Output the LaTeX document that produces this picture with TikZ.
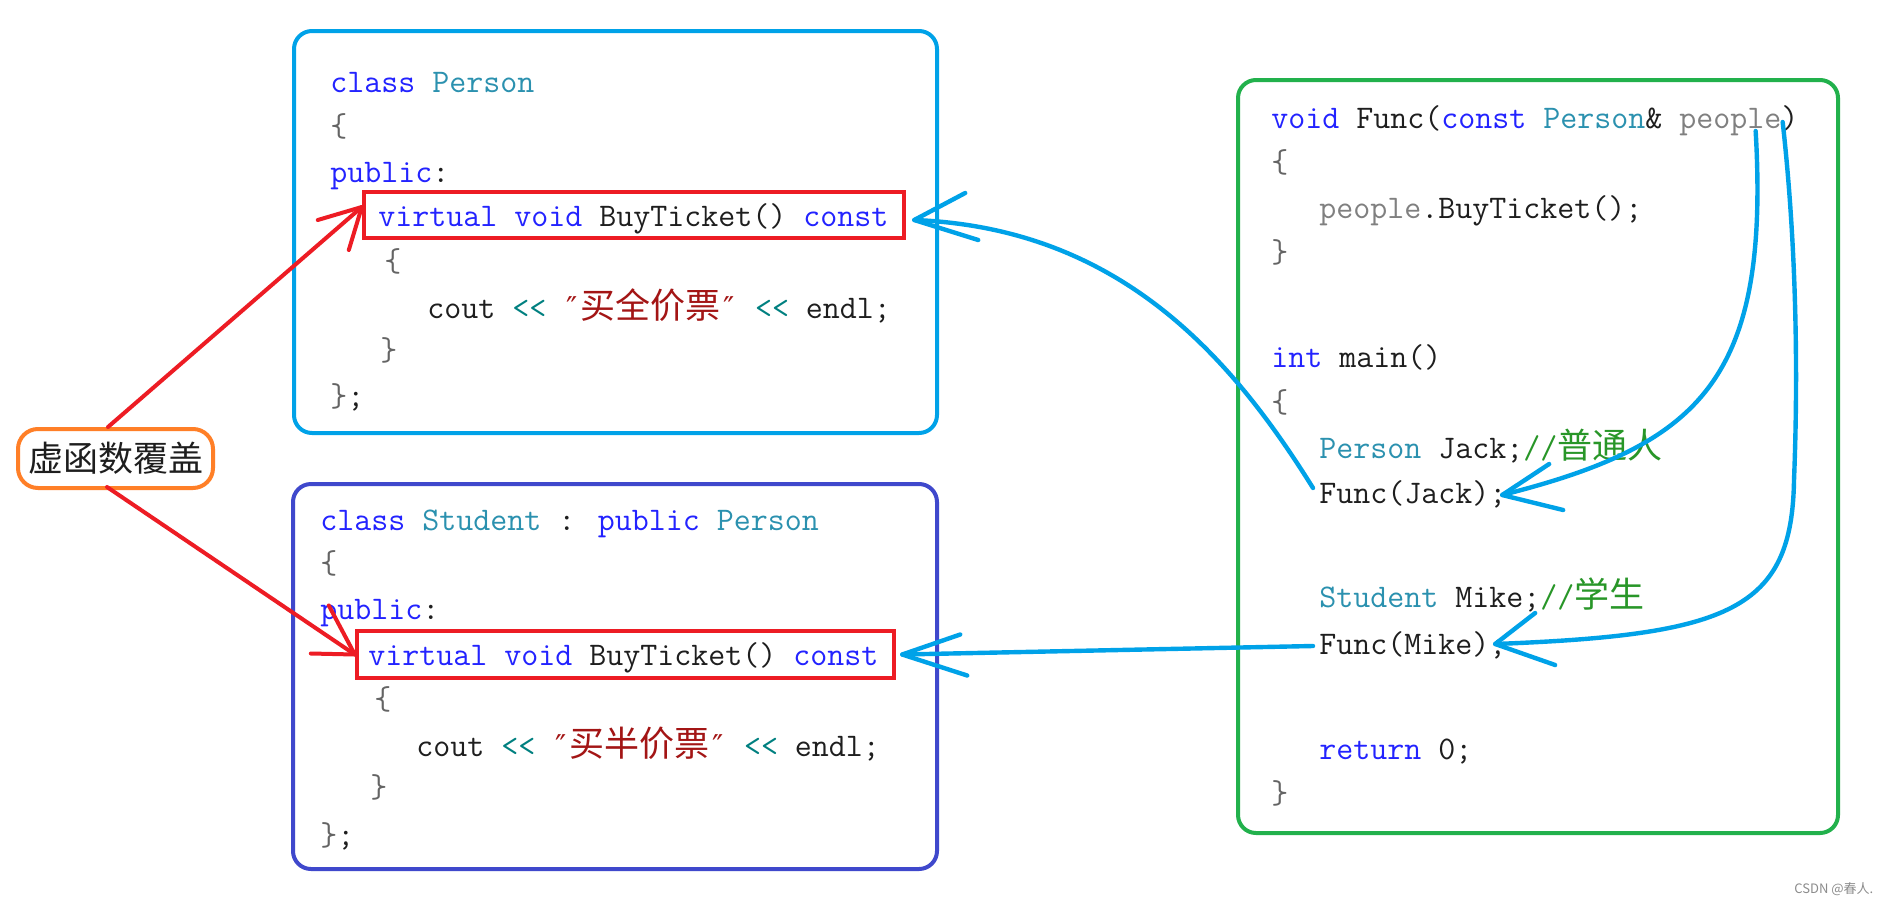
\documentclass[tikz,border=0pt]{standalone}
\usepackage{fontspec}
\newfontfamily\cjk{Noto Sans CJK SC}
\newfontfamily\djv{DejaVu Sans}
\usetikzlibrary{fit}
\definecolor{pblue}{RGB}{0,162,232}
\definecolor{sblue}{RGB}{63,72,204}
\definecolor{gbox}{RGB}{34,177,76}
\definecolor{obox}{RGB}{255,127,39}
\definecolor{rbox}{RGB}{237,28,36}
\definecolor{kw}{RGB}{35,35,255}
\definecolor{ty}{RGB}{43,145,175}
\definecolor{pa}{RGB}{128,128,128}
\definecolor{st}{RGB}{163,21,21}
\definecolor{cm}{RGB}{40,150,40}
\definecolor{op}{RGB}{0,128,128}
\definecolor{tx}{RGB}{30,30,30}
\definecolor{br}{RGB}{100,100,100}
\newcommand\CKw[1]{\textcolor{kw}{#1}}
\newcommand\CTy[1]{\textcolor{ty}{#1}}
\newcommand\CPa[1]{\textcolor{pa}{#1}}
\newcommand\CSt[1]{\textcolor{st}{#1}}
\newcommand\CCm[1]{\textcolor{cm}{#1}}
\newcommand\CBr[1]{\textcolor{br}{#1}}
\newcommand\LL{\textcolor{op}{<\kern0pt<}}
\newcommand\DQ{\makebox[0.525em]{\djv\fontsize{15}{16}\selectfont ″}}
\newcommand\CJ[1]{{\cjk\fontsize{17.5}{20}\selectfont #1}}
\tikzset{
  code/.style={anchor=base west, inner sep=0pt, text height=12pt, text depth=4pt,
    font=\ttfamily\fontsize{16.5}{20}\selectfont, text=tx},
  bigbox/.style={inner sep=0pt, rounded corners=9pt, line width=2pt},
  hl/.style={draw=rbox, inner sep=0pt, line width=2.2pt},
  barrow/.style={draw=pblue, line width=2.2pt, line cap=round, line join=round},
  rarrow/.style={draw=rbox, line width=2pt, line cap=round, line join=round}
}
\begin{document}
\begin{tikzpicture}[x=0.5pt,y=-0.5pt]
\fill[white] (0,0) rectangle (1884,905);
\useasboundingbox (0,0) rectangle (1884,905);

% boxes
\node[bigbox, draw=pblue, fit={(294,31) (937,433)}] (pbox) {};
\node[bigbox, draw=sblue, fit={(293,484) (937,869)}] (sbox) {};
\node[bigbox, draw=gbox, fit={(1238,80) (1838,833)}] (gboxn) {};

% Person class
\node[code] (p1) at (330,92) {\CKw{class} \CTy{Person}};
\node[code] (p2) at (330,136) {\CBr{\{}};
\node[code] (p3) at (330,182) {\CKw{public}:};
\node[code] (p4) at (378,226) {\CKw{virtual} \CKw{void} BuyTicket() \CKw{const}};
\node[code] (p5) at (384,271) {\CBr{\{}};
\node[code] (p6) at (427,318) {cout \LL{} \CSt{\DQ\CJ{买全价票}\DQ} \LL{} endl;};
\node[code] (p7) at (380,360) {\CBr{\}}};
\node[code] (p8) at (330,406) {\CBr{\}};};

% Student class
\node[code] (s1) at (320,530) {\CKw{class} \CTy{Student} : \CKw{public} \CTy{Person}};
\node[code] (s2) at (320,573) {\CBr{\{}};
\node[code] (s3) at (320,619) {\CKw{public}:};
\node[code] (s4) at (368,665) {\CKw{virtual} \CKw{void} BuyTicket() \CKw{const}};
\node[code] (s5) at (374,709) {\CBr{\{}};
\node[code] (s6) at (416,756) {cout \LL{} \CSt{\DQ\CJ{买半价票}\DQ} \LL{} endl;};
\node[code] (s7) at (370,797) {\CBr{\}}};
\node[code] (s8) at (320,845) {\CBr{\}};};

% Func / main
\node[code] (sig) at (1271,128) {\CKw{void} Func(\CKw{const} \CTy{Person}\& \CPa{people})};
\node[code] (g2) at (1271,172) {\CBr{\{}};
\node[code] (g3) at (1319,218) {\CPa{people}.BuyTicket();};
\node[code] (g4) at (1271,262) {\CBr{\}}};
\node[code] (g5) at (1271,367) {\CKw{int} main()};
\node[code] (g6) at (1271,412) {\CBr{\{}};
\node[code] (g7) at (1319,458) {\CTy{Person} Jack;\CCm{//\CJ{普通人}}};
\node[code] (fj) at (1319,503) {Func(Jack);};
\node[code] (g9) at (1319,607) {\CTy{Student} Mike;\CCm{//\CJ{学生}}};
\node[code] (fm) at (1319,654) {Func(Mike);};
\node[code] (g11) at (1319,759) {\CKw{return} 0;};
\node[code] (g12) at (1271,803) {\CBr{\}}};

% highlight boxes
\node[hl, fit={(364,192) (904,238)}] (hl1) {};
\node[hl, fit={(357,631) (894,678)}] (hl2) {};

% label
\node[draw=obox, line width=2pt, rounded corners=10pt, minimum width=97.5pt,
  minimum height=29.5pt, inner sep=0pt, font=\cjk\fontsize{17.5}{20}\selectfont,
  text=tx] (lbl) at (115.5,458.5) {虚函数覆盖};

% watermark
\node[anchor=base west, inner sep=0pt, font=\cjk\fontsize{6.5}{8}\selectfont,
  text=black!45] (wm) at (1794,893) {CSDN @春人.};

% red arrows
\coordinate (r1) at ([yshift=4pt]hl1.west);
\draw[rarrow] ([xshift=-3.75pt]lbl.north) -- (r1);
\draw[rarrow] ([shift={(-44,13)}]r1) -- (r1) -- ([shift={(-13,43)}]r1);
\coordinate (r2) at (hl2.west);
\draw[rarrow] ([xshift=-4.25pt,yshift=1.5pt]lbl.south) -- (r2);
\draw[rarrow] ([shift={(-26,-49)}]r2) -- (r2) -- ([shift={(-44,-1)}]r2);

% blue arrows
\coordinate (tA) at ([xshift=4pt,yshift=-2.5pt]hl1.east);
\draw[barrow] ([xshift=-3pt,yshift=3.5pt]fj.west) .. controls (1233,360) and (1122,228) .. (tA);
\draw[barrow] ([shift={(51,-27)}]tA) -- (tA) -- ([shift={(64,20)}]tA);

\coordinate (tB) at ([xshift=3pt]hl2.east);
\draw[barrow] ([xshift=-3pt]fm.west) -- (tB);
\draw[barrow] ([shift={(58,-20)}]tB) -- (tB) -- ([shift={(65,21)}]tB);

\coordinate (tC) at ([xshift=-2.3pt]fj.east);
\draw[barrow] ([xshift=-21.5pt,yshift=-5.5pt]sig.east) .. controls (1770,380) and (1700,445) .. (tC);
\draw[barrow] ([shift={(47,-31)}]tC) -- (tC) -- ([shift={(61,15)}]tC);

\coordinate (tD) at ([xshift=-5.8pt,yshift=1pt]fm.east);
\draw[barrow] ([xshift=-8pt,yshift=-1pt]sig.east) .. controls (1797,250) and (1798,380) .. (1794,480)
  .. controls (1792,610) and (1730,635) .. (tD);
\draw[barrow] ([shift={(40,-31)}]tD) -- (tD) -- ([shift={(60,21)}]tD);
\end{tikzpicture}
\end{document}
